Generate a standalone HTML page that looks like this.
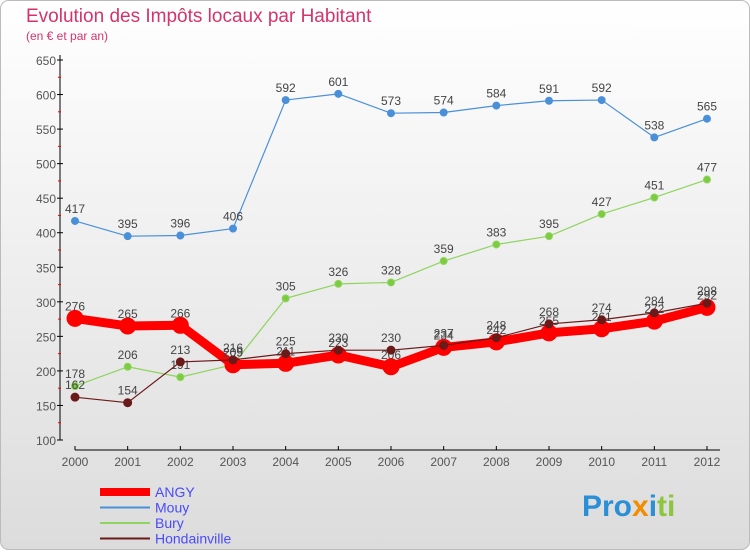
<!DOCTYPE html>
<html><head><meta charset="utf-8"><style>
body{margin:0;width:750px;height:550px;overflow:hidden;font-family:"Liberation Sans",sans-serif}
</style></head><body>
<svg width="750" height="550" xmlns="http://www.w3.org/2000/svg">
<defs><linearGradient id="bg" x1="0" y1="0" x2="0" y2="1"><stop offset="0" stop-color="#ffffff"/><stop offset="1" stop-color="#dcdcdc"/></linearGradient></defs>
<rect x="0.5" y="0.5" width="749" height="549" rx="8" fill="url(#bg)" stroke="#bbb"/>
<text x="26" y="22" font-size="19" fill="#d6336c">Evolution des Impôts locaux par Habitant</text>
<text x="26" y="40" font-size="12" fill="#d6336c">(en € et par an)</text>
<g id="axes"></g><g id="series"></g><g id="legend"></g>
<text x="582" y="516" font-size="30" font-weight="bold"><tspan fill="#2a8fd6">Pro</tspan><tspan fill="#f28c00">x</tspan><tspan fill="#2a8fd6">i</tspan><tspan fill="#8cc63f">ti</tspan></text>
</svg>
<script>
const years=[2000,2001,2002,2003,2004,2005,2006,2007,2008,2009,2010,2011,2012];
const yTicks=[100,150,200,250,300,350,400,450,500,550,600,650];
const angy=[276,265,266,209,211,223,206,234,242,255,261,272,292];
const mouy=[417,395,396,406,592,601,573,574,584,591,592,538,565];
const bury=[178,206,191,209,305,326,328,359,383,395,427,451,477];
const hond=[162,154,213,216,225,230,230,237,248,268,274,284,298];
const NS="http://www.w3.org/2000/svg";
const x=i=>75+i*(707-75)/(years.length-1);
const y=v=>440-(v-100)*(440-60)/550;
function mk(t,a,p){const e=document.createElementNS(NS,t);for(const k in a)e.setAttribute(k,a[k]);p.appendChild(e);return e;}
const ax=document.getElementById('axes');
const yl=mk('line',{x1:60,y1:55,x2:60,y2:440,stroke:'#000'},ax);


const xl=mk('line',{x1:75,y1:450,x2:720,y2:450,stroke:'#000'},ax);


yTicks.forEach(v=>{const t=mk('text',{x:56,y:y(v)+5,'font-size':12,'text-anchor':'end',fill:'#555'},ax);t.textContent=v;


mk('line',{x1:57,y1:y(v),x2:63,y2:y(v),stroke:'#000'},ax);
if(v>100)mk('line',{x1:58,y1:y(v-25),x2:61,y2:y(v-25),stroke:'#e00'},ax);});
years.forEach((yr,i)=>{const t=mk('text',{x:x(i),y:466,'font-size':12,'text-anchor':'middle',fill:'#555'},ax);t.textContent=yr;


mk('line',{x1:x(i),y1:446,x2:x(i),y2:450,stroke:'#000'},ax);});
const se=document.getElementById('series');
function draw(d,col,w,r,name,dot){const g=mk('g',{},se);


const l=mk('polyline',{points:d.map((v,i)=>x(i)+','+y(v)).join(' '),fill:'none',stroke:col,'stroke-width':w,'stroke-linejoin':'round'},g);


d.forEach((v,i)=>{const c=mk('circle',{cx:x(i),cy:y(v),r:r,fill:dot,stroke:col,'stroke-width':1},g);


const t=mk('text',{x:x(i),y:y(v)-8,'font-size':12,'text-anchor':'middle',fill:'#444'},g);t.textContent=v;

});}
draw(mouy,'#4a90d9',1.2,3.5,'mouy','#4a90d9');
draw(bury,'#8fd460',1.2,3.5,'bury','#7ccc40');
draw(angy,'#ff0000',9,8,'angy','#ff0000');
draw(hond,'#6b1a1a',1.2,4,'hondainville','#6b1a1a');
const lg=document.getElementById('legend');
[['ANGY','#ff0000',8],['Mouy','#4a90d9',2],['Bury','#8fd460',2],['Hondainville','#6b1a1a',2]].forEach((e,i)=>{
const yy=492+i*15.5;const l=mk('line',{x1:100,y1:yy,x2:150,y2:yy,stroke:e[1],'stroke-width':e[2]},lg);


const t=mk('text',{x:155,y:yy+5,'font-size':14,fill:'#4a4aff'},lg);t.textContent=e[0];

});
</script>
</body></html>
